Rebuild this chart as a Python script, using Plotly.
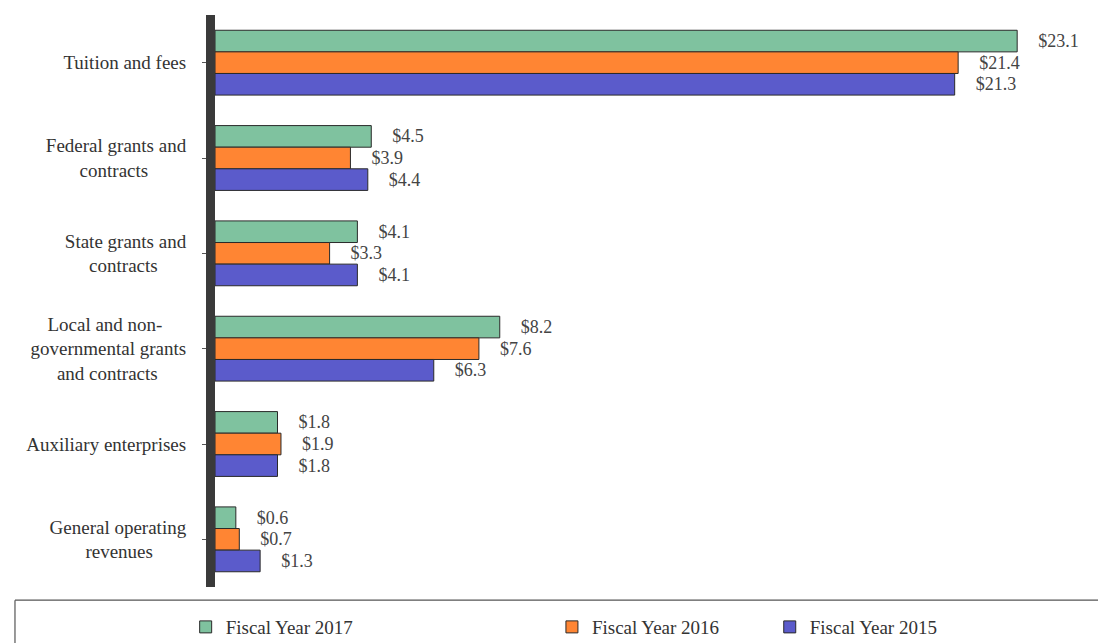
import plotly.graph_objects as go

NB = "\u00a0"
categories = ["Tuition and fees",
              "Federal grants and<br>contracts" + NB * 8,
              "State grants and<br>contracts" + NB * 6,
              "Local and non-" + NB * 5 + "<br>governmental grants<br>and contracts" + NB * 6,
              "Auxiliary enterprises",
              "General operating<br>revenues" + NB * 7]
fy2017 = [23.1, 4.5, 4.1, 8.2, 1.8, 0.6]
fy2016 = [21.4, 3.9, 3.3, 7.6, 1.9, 0.7]
fy2015 = [21.3, 4.4, 4.1, 6.3, 1.8, 1.3]

series = [("Fiscal Year 2017", fy2017, "#7fc29f", "legend"),
          ("Fiscal Year 2016", fy2016, "#ff8533", "legend2"),
          ("Fiscal Year 2015", fy2015, "#5b5bcb", "legend3")]

SERIF = "Liberation Serif, Times New Roman, serif"
font = dict(family=SERIF, size=19, color="#333333")

fig = go.Figure()
for name, vals, col, lg in series:
    fig.add_trace(go.Bar(
        y=categories, x=vals, name=name, orientation="h",
        marker=dict(color=col, line=dict(color="#2a2a2a", width=1)),
        text=[NB * 4 + f"${v:.1f}" for v in vals], textposition="outside",
        textfont=dict(family=SERIF, size=18, color="#444444"),
        cliponaxis=False, legend=lg,
    ))

leg_common = dict(orientation="h", yanchor="middle", y=-0.07, xanchor="left",
                  font=dict(family=SERIF, size=19, color="#333333"),
                  bgcolor="rgba(0,0,0,0)", itemwidth=30)

fig.update_layout(
    width=1106, height=643,
    margin=dict(l=207, r=10, t=7, b=64, autoexpand=False),
    paper_bgcolor="white", plot_bgcolor="white",
    barmode="group", bargap=0.32, bargroupgap=0.0,
    font=font,
    legend=dict(x=-0.033, **leg_common),
    legend2=dict(x=0.379, **leg_common),
    legend3=dict(x=0.624, **leg_common),
    xaxis=dict(range=[0, 25.6], showticklabels=False, showgrid=False, zeroline=False,
               showline=False),
    yaxis=dict(autorange="reversed", showgrid=False, showline=True, linecolor="#3a3a3a",
               linewidth=9, ticks="outside", ticklen=4, tickcolor="#555555",
               tickfont=font, ticklabelstandoff=12),
    showlegend=True,
)

# legend frame (top and left edges; the rest runs off the page)
fig.add_shape(type="line", xref="paper", yref="paper", x0=-0.225, x1=1.05, y0=-0.023, y1=-0.023,
              line=dict(color="#555555", width=1.2))
fig.add_shape(type="line", xref="paper", yref="paper", x0=-0.225, x1=-0.225, y0=-0.023, y1=-0.13,
              line=dict(color="#555555", width=1.2))

fig.write_html("out.html")
